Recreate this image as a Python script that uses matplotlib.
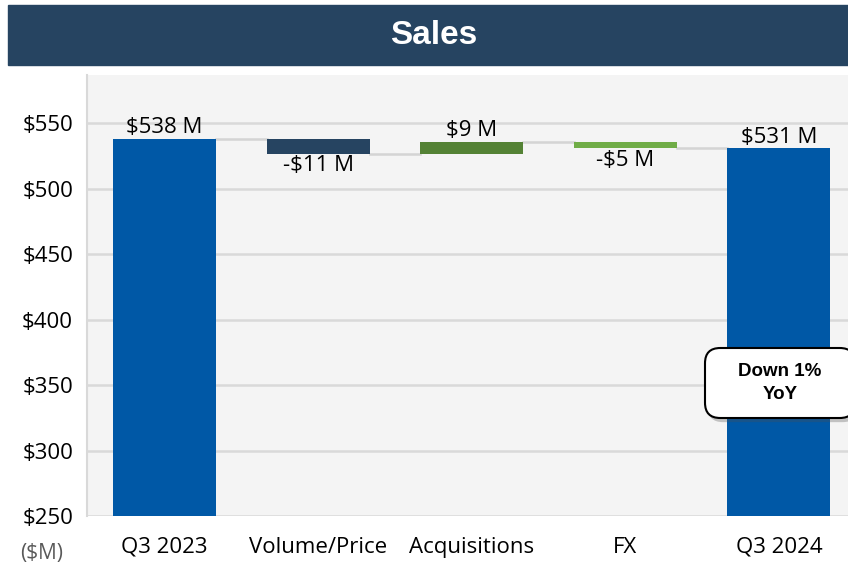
import matplotlib
matplotlib.use("Agg")
import matplotlib.pyplot as plt
from matplotlib.patches import FancyBboxPatch, Rectangle
import matplotlib.patheffects as pe

plt.rcParams['font.family'] = ['Open Sans', 'Noto Sans', 'DejaVu Sans']

categories = ["Q3 2023", "Volume/Price", "Acquisitions", "FX", "Q3 2024"]
changes = [538, -11, 9, -5, 531]
kinds = ["total", "delta", "delta", "delta", "total"]
labels = ["$538 M", "-$11 M", "$9 M", "-$5 M", "$531 M"]
colors = ["#0058a6", "#264461", "#548235", "#70ad47", "#0058a6"]
yticks = [250, 300, 350, 400, 450, 500, 550]
ytick_labels = ["$250", "$300", "$350", "$400", "$450", "$500", "$550"]

W, H = 848, 569
fig = plt.figure(figsize=(W / 100, H / 100), dpi=100)

# title banner
fig.patches.append(Rectangle((8 / W, 1 - 65 / H), 1 - 8 / W, 60 / H,
                             transform=fig.transFigure, color="#264461", zorder=0))
fig.text(434 / W, 1 - 36 / H, "Sales", color="white", fontsize=24, fontweight="bold",
         family=["Liberation Sans", "DejaVu Sans"], ha="center", va="center")

ax = fig.add_axes([87 / W, 1 - 516 / H, (W - 87) / W, (516 - 75) / H])
ax.set_facecolor("#f4f4f4")
ymin = 250
ax.set_ylim(ymin, 587)
ax.set_xlim(-0.505, 4.45)

bw = 0.67
running = 0
bottoms, tops = [], []
for i, (c, k) in enumerate(zip(changes, kinds)):
    if k == "total":
        b, t = ymin, c
        running = c
    else:
        b, t = running, running + c
        running = running + c
    bottoms.append(min(b, t))
    tops.append(max(b, t))
    ax.bar(i, max(b, t) - min(b, t), bottom=min(b, t), width=bw, color=colors[i], zorder=3)

# connectors
levels = []
running = 0
for i, (c, k) in enumerate(zip(changes, kinds)):
    running = c if k == "total" else running + c
    levels.append(running)
for i in range(len(categories) - 1):
    ax.plot([i + bw / 2, i + 1 - bw / 2], [levels[i], levels[i]], color="#d4d4d4",
            lw=1.8, zorder=2)

# labels
for i, (c, k) in enumerate(zip(changes, kinds)):
    if c >= 0:
        ax.text(i, tops[i] + 0.5, labels[i], ha="center", va="bottom", fontsize=16)
    else:
        ax.text(i, bottoms[i] - 1.5, labels[i], ha="center", va="top", fontsize=16)

ax.set_yticks(yticks)
ax.set_yticklabels(ytick_labels, fontsize=16)
ax.set_xticks(range(len(categories)))
ax.set_xticklabels(categories, fontsize=16)
ax.tick_params(length=0, pad=10)
ax.tick_params(axis="x", pad=15)
ax.grid(axis="y", color="#d9d9d9", lw=1.8, zorder=1)
ax.set_axisbelow(True)
for s in ["top", "right", "bottom"]:
    ax.spines[s].set_visible(False)
ax.spines["left"].set_color("#d9d9d9")
ax.spines["left"].set_linewidth(1.5)

fig.text(42 / W, 1 - 553 / H, "($M)", fontsize=15, color="#595959", ha="center", va="center")

# annotation box
box = FancyBboxPatch((705 / W, 1 - 418 / H), 150 / W, 70 / H,
                     boxstyle="round,pad=0,rounding_size=0.018",
                     transform=fig.transFigure, fc="white", ec="black", lw=1.5,
                     mutation_aspect=W / H, zorder=6,
                     path_effects=[pe.withSimplePatchShadow(offset=(2, -3), alpha=0.3)])
fig.patches.append(box)
fig.text(780 / W, 1 - 383 / H, "Down 1%\nYoY", ha="center", va="center",
         fontsize=13.5, fontweight="bold", linespacing=1.4,
         family=["Liberation Sans", "DejaVu Sans"], zorder=7)

fig.savefig("out.png", dpi=100)
